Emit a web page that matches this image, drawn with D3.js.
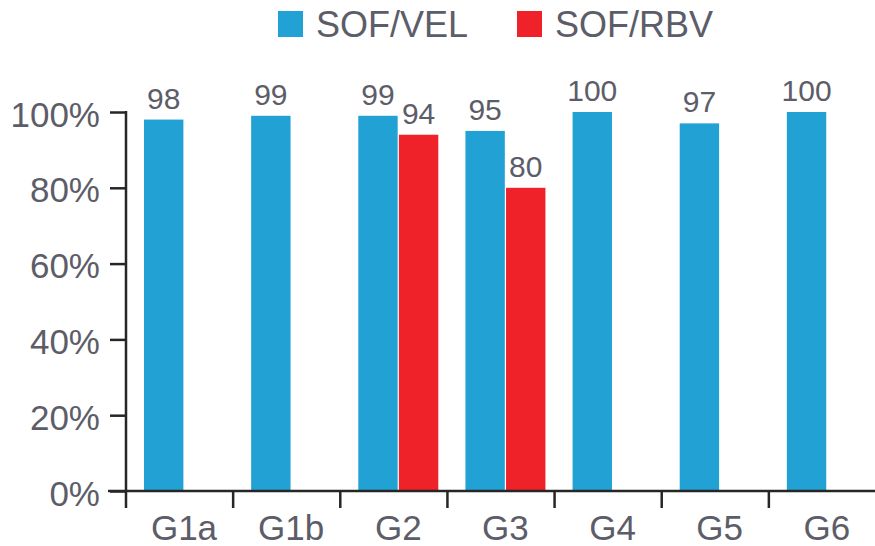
<!DOCTYPE html>
<html>
<head>
<meta charset="utf-8">
<script src="https://cdn.jsdelivr.net/npm/d3@7"></script>
<style>
  html, body { margin: 0; padding: 0; background: #fff; }
  svg { display: block; font-family: "Liberation Sans", Arial, Helvetica, sans-serif; }
</style>
</head>
<body>
<svg id="chart" width="875" height="546"></svg>
<script>
// Genotypes on the x axis
const genotypes = ["G1a", "G1b", "G2", "G3", "G4", "G5", "G6"];
// Treatment regimens (series)
const regimens = ["SOF/VEL", "SOF/RBV"];
// SVR12 rates (%) per genotype; null where a regimen was not studied
const sofVel = [98, 99, 99, 95, 100, 97, 100];
const sofRbv = [null, null, 94, 80, null, null, null];
// Y axis tick values and their labels
const yTicks = [0, 20, 40, 60, 80, 100];
const yTickLabels = ["0%", "20%", "40%", "60%", "80%", "100%"];

const colors = { "SOF/VEL": "#22a2d4", "SOF/RBV": "#ee2228" };
const textColor = "#5c5d68";
const axisColor = "#262626";

const svg = d3.select("#chart");
const left = 126, right = 876, baseY = 491, topY = 112;

const x0 = d3.scaleBand().domain(genotypes).range([left, right]);
const x1 = d3.scaleBand().domain(regimens).range([18, 98]).paddingInner(0.03);
const y = d3.scaleLinear().domain([0, 100]).range([baseY, topY]);

const rows = genotypes.map((g, i) => ({
  g,
  vals: [
    { key: "SOF/VEL", v: sofVel[i] },
    { key: "SOF/RBV", v: sofRbv[i] }
  ].filter(d => d.v != null)
}));

// Bars
const groups = svg.append("g").selectAll("g")
  .data(rows).join("g")
  .attr("transform", d => `translate(${x0(d.g)},0)`);

groups.selectAll("rect")
  .data(d => d.vals).join("rect")
  .attr("x", d => x1(d.key))
  .attr("width", x1.bandwidth())
  .attr("y", d => y(d.v))
  .attr("height", d => y(0) - y(d.v))
  .attr("fill", d => colors[d.key]);

// Value labels above bars
groups.selectAll("text")
  .data(d => d.vals).join("text")
  .attr("x", d => x1(d.key) + x1.bandwidth() / 2)
  .attr("y", d => y(d.v) - 11)
  .attr("text-anchor", "middle")
  .attr("font-size", 30)
  .attr("fill", textColor)
  .text(d => d.v);

// Y axis
const yAxis = d3.axisLeft(y)
  .tickValues(yTicks)
  .tickFormat((d, i) => yTickLabels[i])
  .tickSize(16)
  .tickPadding(10)
  .tickSizeOuter(0);

const yG = svg.append("g")
  .attr("transform", `translate(${left},0)`)
  .call(yAxis);
yG.select(".domain").attr("stroke", axisColor).attr("stroke-width", 2.5)
  .attr("d", `M0,${topY - 1}V${baseY + 17}`);
yG.selectAll(".tick line").attr("stroke", axisColor).attr("stroke-width", 2.5);
yG.selectAll(".tick text")
  .attr("font-size", 35)
  .attr("fill", textColor)
  .attr("font-family", null)
  .attr("dy", "0.4em");

// X axis: baseline with ticks at band boundaries
const xG = svg.append("g");
xG.append("line")
  .attr("x1", left - 18).attr("x2", 875)
  .attr("y1", baseY).attr("y2", baseY)
  .attr("stroke", axisColor).attr("stroke-width", 2.5);
xG.selectAll("line.sep")
  .data(genotypes.slice(1)).join("line")
  .attr("class", "sep")
  .attr("x1", d => x0(d)).attr("x2", d => x0(d))
  .attr("y1", baseY).attr("y2", baseY + 17)
  .attr("stroke", axisColor).attr("stroke-width", 2.5);
xG.selectAll("text")
  .data(genotypes).join("text")
  .attr("x", d => x0(d) + 58)
  .attr("y", 540)
  .attr("text-anchor", "middle")
  .attr("font-size", 35)
  .attr("fill", textColor)
  .text(d => d);

// Legend
const legendPos = [{ key: "SOF/VEL", x: 278 }, { key: "SOF/RBV", x: 517 }];
const lg = svg.append("g").selectAll("g")
  .data(legendPos).join("g")
  .attr("transform", d => `translate(${d.x},0)`);
lg.append("rect")
  .attr("x", 0).attr("y", 11)
  .attr("width", 25).attr("height", 26)
  .attr("fill", d => colors[d.key]);
lg.append("text")
  .attr("x", 38).attr("y", 37)
  .attr("font-size", 36)
  .attr("fill", textColor)
  .text(d => d.key);
</script>
</body>
</html>
